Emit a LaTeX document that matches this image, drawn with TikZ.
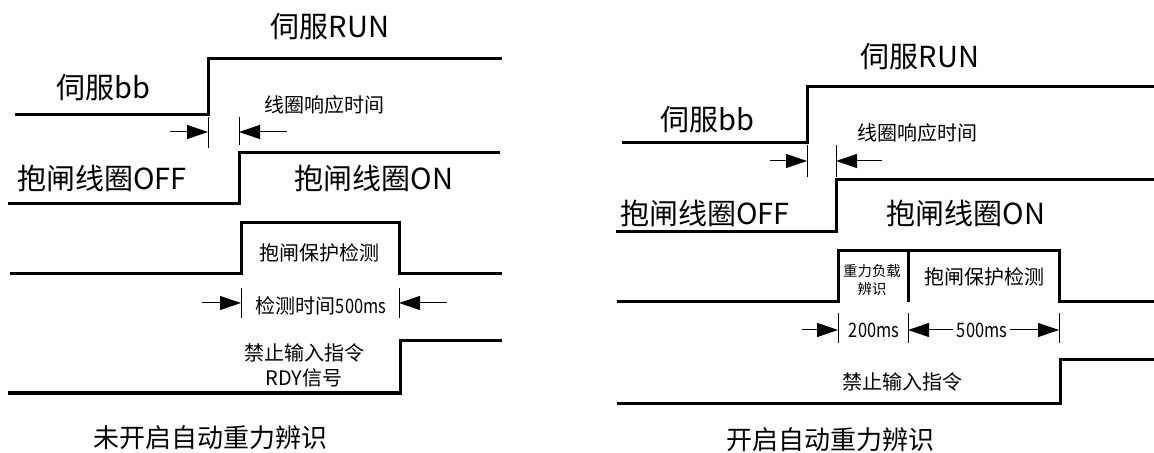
\documentclass[tikz,border=0pt]{standalone}
\usepackage{fontspec}
\setmainfont{Noto Sans CJK SC}
\newfontfamily\narrowcjk[FakeStretch=0.82]{Noto Sans CJK SC}
\usetikzlibrary{arrows.meta}

\tikzset{
  signal/.style={line width=1.5pt, line join=miter},
  dimline/.style={line width=0.5pt},
  biglbl/.style={font=\fontsize{14.5}{17}\selectfont, inner sep=0pt},
  midlbl/.style={font=\fontsize{10}{12.5}\selectfont, inner sep=0pt, align=center},
  mslbl/.style={font=\narrowcjk\fontsize{10}{12.5}\selectfont, inner sep=0pt},
  tinylbl/.style={font=\fontsize{7.2}{8.6}\selectfont, inner sep=0pt, align=center},
  caplbl/.style={font=\fontsize{13}{15}\selectfont, inner sep=0pt}
}

\begin{document}
\begin{tikzpicture}[x=0.5pt, y=-0.5pt, >={Triangle[length=10.5pt,width=7pt]}]
      \useasboundingbox (0,0) rectangle (1154,453);
      % left: no auto gravity identification
      \coordinate (A1) at (208,115);
      \coordinate (A2) at (239,204);
      \coordinate (A3) at (241,274);
      \coordinate (A4) at (399,274);
      \coordinate (A5) at (400,393);
      \draw[signal] (15,115) -- (A1) -- (208,59) -- (502,59);
      \draw[signal] (8,204) -- (A2) -- (239,153) -- (500,153);
      \draw[signal] (10,274) -- (A3) -- (241,223) -- (399,223) -- (A4) -- (502,274);
      \draw[signal] (8,393) -- (A5) -- (400,341) -- (502,341);
      \draw[dimline] (208,117) -- (208,148);
      \draw[dimline] (239,117) -- (239,145);
      \draw[dimline,->] (170,132) -- (208,132);
      \draw[dimline,->] (287,132) -- (239,132);
      \draw[dimline] (241,288) -- (241,318);
      \draw[dimline] (399,288) -- (399,318);
      \draw[dimline,->] (202,303) -- (241,303);
      \draw[dimline,->] (447,303) -- (399,303);
      \node[biglbl] (lrun) at (330,27) {伺服RUN};
      \node[biglbl] (lbb) at (103,88) {伺服bb};
      \node[midlbl] (lresp) at (324,105) {线圈响应时间};
      \node[biglbl] (loff) at (102,178) {抱闸线圈OFF};
      \node[biglbl] (lon) at (374,178) {抱闸线圈ON};
      \node[midlbl] (lchk) at (319,253) {抱闸保护检测};
      \node[midlbl] (ltime) at (321,306) {检测时间{\narrowcjk 500ms}};
      \node[midlbl] (lrdy) at (304,365) {禁止输入指令\\RDY信号};
      \node[caplbl] (lcap) at (210,438) {未开启自动重力辨识};
      % right: auto gravity identification on
      \coordinate (B1) at (807,143);
      \coordinate (B2) at (836,232);
      \coordinate (B3) at (838,302);
      \coordinate (B4) at (1059,302);
      \coordinate (B5) at (1060,403);
      \draw[signal] (622,143) -- (B1) -- (807,87) -- (1154,87);
      \draw[signal] (616,232) -- (B2) -- (836,180) -- (1154,180);
      \draw[signal] (617,302) -- (B3) -- (838,251) -- (1059,251) -- (B4) -- (1154,302);
      \draw[signal] (908,251) -- (908,302);
      \draw[signal] (617,403) -- (B5) -- (1060,360) -- (1154,360);
      \draw[dimline] (807,145) -- (807,177);
      \draw[dimline] (836,145) -- (836,177);
      \draw[dimline,->] (770,161) -- (807,161);
      \draw[dimline,->] (882,161) -- (836,161);
      \draw[dimline] (838,313) -- (838,343);
      \draw[dimline] (908,313) -- (908,343);
      \draw[dimline] (1059,313) -- (1059,343);
      \draw[dimline,->] (802,330) -- (838,330);
      \draw[dimline,->] (953,330) -- (908,330);
      \draw[dimline,->] (1010,330) -- (1059,330);
      \node[biglbl] (rrun) at (920,57) {伺服RUN};
      \node[biglbl] (rbb) at (707,120) {伺服bb};
      \node[midlbl] (rresp) at (917,133) {线圈响应时间};
      \node[biglbl] (roff) at (705,213) {抱闸线圈OFF};
      \node[biglbl] (ron) at (966,213) {抱闸线圈ON};
      \node[tinylbl] (rgrav) at (872,280) {重力负载\\辨识};
      \node[midlbl] (rchk) at (984,277) {抱闸保护检测};
      \node[mslbl] (r200) at (874,330) {200ms};
      \node[mslbl] (r500) at (982,330) {500ms};
      \node[midlbl] (rinh) at (902,382) {禁止输入指令};
      \node[caplbl] (rcap) at (830,440) {开启自动重力辨识};
    \end{tikzpicture}
\end{document}
